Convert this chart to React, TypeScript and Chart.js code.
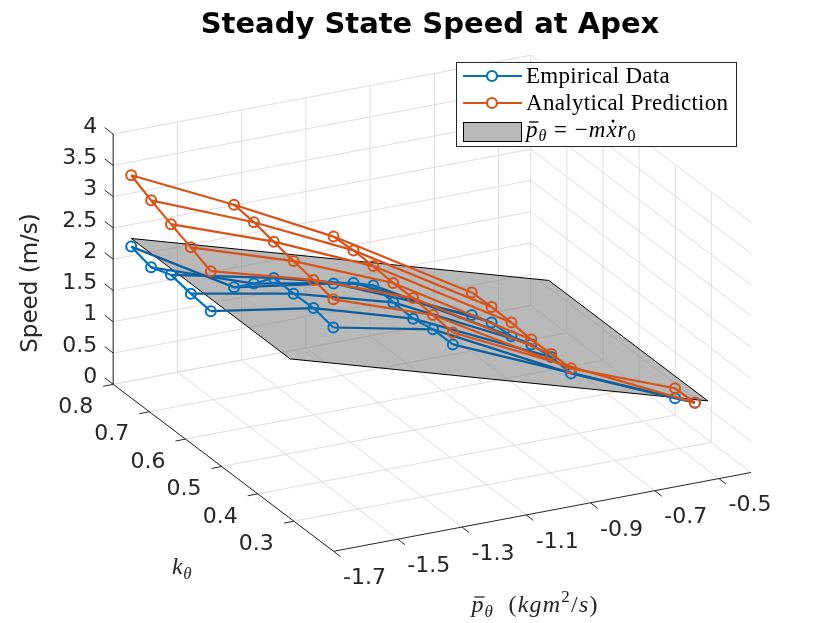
import { useEffect, useRef } from "react";
import { Chart, registerables } from "chart.js";

Chart.register(...registerables);

// axis limits and ticks
const pLim = [-1.7, -0.4];
const kLim = [0.19, 0.8];
const zLim = [0, 4];
const pTicks = [-1.7, -1.5, -1.3, -1.1, -0.9, -0.7, -0.5];
const kTicks = [0.3, 0.4, 0.5, 0.6, 0.7, 0.8];
const zTicks = [0, 0.5, 1, 1.5, 2, 2.5, 3, 3.5, 4];

// k levels of the test grid, p value of each sweep, first k level of each sweep
const kLevels = [0.75, 0.695, 0.64, 0.585, 0.53, 0.475, 0.42, 0.365, 0.31];
const pSweeps = [-1.7, -1.38, -1.07, -0.64, -0.44];
const kStart = [0, 0, 0, 0, 7];

// speed (m/s) along each sweep
const analytical = [
  [3.56, 3.4, 3.26, 3.13, 2.99],
  [2.78, 2.74, 2.67, 2.6, 2.54, 2.47],
  [1.97, 1.99, 1.98, 1.95, 1.95, 1.92, 1.88],
  [0.66, 0.67, 0.66, 0.63, 0.64, 0.65],
  [0.62, 0.63],
];
const empirical = [
  [2.42, 2.33, 2.45, 2.39, 2.35],
  [1.46, 1.76, 2.09, 2.08, 2.09, 2.02],
  [1.22, 1.47, 1.67, 1.64, 1.62, 1.69, 1.69],
  [0.3, 0.42, 0.44, 0.55, 0.59, 0.57],
  [0.46, 0.63],
];

// lines joining the sweeps: [sweep, k level]
const rowPaths = [
  [[0, 0], [1, 0], [2, 0], [3, 0]],
  [[0, 1], [1, 1], [2, 1], [3, 1]],
  [[0, 2], [1, 2], [2, 2], [3, 2]],
  [[0, 3], [1, 3], [2, 3], [3, 3]],
  [[0, 4], [1, 4], [2, 4], [3, 4]],
  [[1, 5], [2, 5], [3, 5], [4, 7]],
  [[2, 6], [4, 8]],
];

// plane p = -m xdot r0 (corners)
const planeP = [-1.7, -0.4, -0.4, -1.7, -1.7];
const planeK = [0.75, 0.75, 0.31, 0.31, 0.75];
const planeV = [2.55, 0.62, 0.62, 2.55, 2.55];

const BLUE = "#0072BD";
const BLUE_DARK = "#0d5e9e";
const ORANGE = "#D95319";
const AXIS = "#262626";
const GRID = "#dedede";
const PLANE = "rgba(128,128,128,0.55)";
const TICK_FONT = '22px "DejaVu Sans"';

// orthographic view of the 3-D box
function proj(p: number, k: number, z: number) {
  return {
    x: 108 + 326.7 * (p + 1.7) - 367.5 * (k - 0.8),
    y: 386 - 62 * (p + 1.7) - 280 * (k - 0.8) - 64 * z,
  };
}

function sweep(vals: number[][], s: number) {
  return vals[s].map((v, j) => proj(pSweeps[s], kLevels[kStart[s] + j], v));
}

function row(vals: number[][], path: number[][]) {
  return path.map(([s, i]) => proj(pSweeps[s], kLevels[i], vals[s][i - kStart[s]]));
}

type Seg = { t: string; f: string; dy?: number; bar?: boolean; dot?: boolean };

function drawMath(ctx: CanvasRenderingContext2D, segs: Seg[], x: number, y: number, center = false, sp = 0) {
  (ctx as any).letterSpacing = sp + "px";
  let w = 0;
  segs.forEach((s) => {
    ctx.font = s.f;
    w += ctx.measureText(s.t).width;
  });
  let cx = center ? x - w / 2 : x;
  segs.forEach((s) => {
    ctx.font = s.f;
    const mw = ctx.measureText(s.t).width;
    ctx.fillText(s.t, cx, y + (s.dy || 0));
    if (s.bar) {
      ctx.beginPath();
      ctx.lineWidth = 1.3;
      ctx.moveTo(cx + 3, y - 15);
      ctx.lineTo(cx + mw, y - 15);
      ctx.stroke();
    }
    if (s.dot) {
      ctx.beginPath();
      ctx.arc(cx + mw / 2 + 1, y - 16, 1.5, 0, Math.PI * 2);
      ctx.fill();
    }
    cx += mw;
  });
  (ctx as any).letterSpacing = "0px";
}

const IT = 'italic 23px "Liberation Serif"';
const RM = '23px "Liberation Serif"';
const SUB_IT = 'italic 16px "Liberation Serif"';
const SUB_RM = '16px "Liberation Serif"';
const LAB_IT = 'italic 24px "Liberation Serif"';
const LAB_RM = '24px "Liberation Serif"';
const LAB_SUB_IT = 'italic 17px "Liberation Serif"';
const LAB_SUB_RM = '17px "Liberation Serif"';

const axes3d = {
  id: "axes3d",
  beforeDraw(chart: Chart) {
    const { ctx } = chart;
    ctx.save();
    ctx.fillStyle = "#fff";
    ctx.fillRect(0, 0, chart.width, chart.height);
    ctx.restore();
  },
  beforeDatasetsDraw(chart: Chart) {
    const { ctx } = chart;
    const sx = chart.scales.x;
    const sy = chart.scales.y;
    const P = (p: number, k: number, z: number): [number, number] => {
      const q = proj(p, k, z);
      return [sx.getPixelForValue(q.x), sy.getPixelForValue(q.y)];
    };
    const seg = (a: [number, number], b: [number, number]) => {
      ctx.moveTo(a[0], a[1]);
      ctx.lineTo(b[0], b[1]);
    };
    const [p0, p1] = pLim;
    const [k0, k1] = kLim;
    const [z0, z1] = zLim;
    ctx.save();
    ctx.strokeStyle = GRID;
    ctx.lineWidth = 1;
    ctx.beginPath();
    pTicks.forEach((p) => seg(P(p, k0, z0), P(p, k1, z0)));
    kTicks.forEach((k) => seg(P(p0, k, z0), P(p1, k, z0)));
    pTicks.forEach((p) => seg(P(p, k1, z0), P(p, k1, z1)));
    zTicks.forEach((z) => seg(P(p0, k1, z), P(p1, k1, z)));
    kTicks.forEach((k) => seg(P(p1, k, z0), P(p1, k, z1)));
    zTicks.forEach((z) => seg(P(p1, k0, z), P(p1, k1, z)));
    ctx.stroke();

    ctx.strokeStyle = AXIS;
    ctx.beginPath();
    seg(P(p0, k1, z0), P(p0, k1, z1));
    seg(P(p0, k0, z0), P(p0, k1, z0));
    seg(P(p0, k0, z0), P(p1, k0, z0));
    zTicks.forEach((z) => {
      const a = P(p0, k1, z);
      seg(a, [a[0] - 8.5, a[1] - 6.5]);
    });
    kTicks.forEach((k) => {
      const a = P(p0, k, z0);
      seg(a, [a[0] - 10, a[1] + 2]);
    });
    pTicks.forEach((p) => {
      const a = P(p, k0, z0);
      seg(a, [a[0] + 7, a[1] + 5.5]);
    });
    ctx.stroke();

    ctx.fillStyle = AXIS;
    ctx.font = TICK_FONT;
    ctx.textBaseline = "middle";
    ctx.textAlign = "right";
    zTicks.forEach((z) => {
      const a = P(p0, k1, z);
      ctx.fillText(String(z), a[0] - 16, a[1] - 7);
    });
    kTicks.forEach((k) => {
      const a = P(p0, k, z0);
      ctx.fillText(String(k), a[0] - 20, a[1] + 23);
    });
    ctx.textAlign = "center";
    pTicks.forEach((p) => {
      const a = P(p, k0, z0);
      ctx.fillText(String(p), a[0] + 31, a[1] + 27);
    });

    // axis labels
    ctx.save();
    ctx.translate(31, 283);
    ctx.rotate(-Math.PI / 2);
    ctx.font = '23px "DejaVu Sans"';
    ctx.fillText("Speed (m/s)", 0, 0);
    ctx.restore();

    ctx.textAlign = "left";
    ctx.textBaseline = "alphabetic";
    ctx.strokeStyle = AXIS;
    drawMath(ctx, [{ t: "k", f: LAB_IT }, { t: "θ", f: LAB_SUB_IT, dy: 5 }], 182, 574, true, 0.5);
    drawMath(
      ctx,
      [
        { t: "p", f: LAB_IT, bar: true },
        { t: "θ", f: LAB_SUB_IT, dy: 5 },
        { t: "  (", f: LAB_RM },
        { t: "kgm", f: LAB_IT },
        { t: "2", f: LAB_SUB_RM, dy: -10 },
        { t: "/", f: LAB_RM },
        { t: "s", f: LAB_IT },
        { t: ")", f: LAB_RM },
      ],
      535,
      612,
      true,
      1.2
    );
    ctx.restore();
  },
  afterDraw(chart: Chart) {
    const { ctx } = chart;
    ctx.save();
    // title
    ctx.fillStyle = "#000";
    ctx.font = 'bold 29px "DejaVu Sans"';
    ctx.textAlign = "center";
    ctx.textBaseline = "middle";
    ctx.fillText("Steady State Speed at Apex", 430, 25);

    // legend
    ctx.fillStyle = "#fff";
    ctx.fillRect(456.5, 62.5, 280, 84);
    ctx.strokeStyle = AXIS;
    ctx.lineWidth = 1;
    ctx.strokeRect(456.5, 62.5, 280, 84);
    [
      [BLUE, 76],
      [ORANGE, 103],
    ].forEach(([c, y]) => {
      ctx.strokeStyle = c as string;
      ctx.lineWidth = 2.2;
      ctx.beginPath();
      ctx.moveTo(463, y as number);
      ctx.lineTo(522, y as number);
      ctx.stroke();
      ctx.fillStyle = "#fff";
      ctx.beginPath();
      ctx.arc(492, y as number, 5, 0, Math.PI * 2);
      ctx.fill();
      ctx.stroke();
    });
    ctx.fillStyle = PLANE;
    ctx.fillRect(463.5, 122.5, 58, 19);
    ctx.strokeStyle = "#000";
    ctx.lineWidth = 1;
    ctx.strokeRect(463.5, 122.5, 58, 19);

    ctx.fillStyle = "#000";
    ctx.textAlign = "left";
    ctx.textBaseline = "alphabetic";
    ctx.font = RM;
    (ctx as any).letterSpacing = "0.3px";
    ctx.fillText("Empirical Data", 526, 83);
    ctx.fillText("Analytical Prediction", 526, 110);
    ctx.strokeStyle = "#000";
    drawMath(
      ctx,
      [
        { t: "p", f: IT, bar: true },
        { t: "θ", f: SUB_IT, dy: 4 },
        { t: " = −", f: RM },
        { t: "m", f: IT },
        { t: "x", f: IT, dot: true },
        { t: "r", f: IT },
        { t: "0", f: SUB_RM, dy: 4 },
      ],
      526,
      137,
      false,
      1
    );
    ctx.restore();
  },
};

export default function App() {
  const canvasRef = useRef<HTMLCanvasElement>(null);

  useEffect(() => {
    if (!canvasRef.current) return;

    const lineSet = (data: { x: number; y: number }[], color: string, order: number, markers: boolean) => ({
      data,
      borderColor: color,
      backgroundColor: color,
      borderWidth: 2.2,
      pointRadius: markers ? 5 : 0,
      pointBorderWidth: 2,
      pointBackgroundColor: "rgba(0,0,0,0)",
      pointBorderColor: color,
      pointHoverRadius: markers ? 5 : 0,
      fill: false,
      tension: 0,
      order,
    });

    const datasets: any[] = [];
    datasets.push({
      data: planeP.map((p, i) => proj(p, planeK[i], planeV[i])),
      borderColor: "#000",
      borderWidth: 1,
      backgroundColor: PLANE,
      pointRadius: 0,
      fill: "shape",
      tension: 0,
      order: 6,
    });
    rowPaths.forEach((path) => datasets.push(lineSet(row(empirical, path), BLUE_DARK, 5, false)));
    pSweeps.forEach((_, s) => datasets.push(lineSet(sweep(empirical, s), BLUE, 3, true)));
    rowPaths.forEach((path) => datasets.push(lineSet(row(analytical, path), ORANGE, 2, false)));
    pSweeps.forEach((_, s) => datasets.push(lineSet(sweep(analytical, s), ORANGE, 1, true)));

    const chart = new Chart(canvasRef.current, {
      type: "line",
      data: { datasets },
      options: {
        responsive: false,
        animation: false,
        layout: { padding: 0 },
        scales: {
          x: { type: "linear", min: 0, max: 830, display: false },
          y: { type: "linear", min: 0, max: 623, reverse: true, display: false },
        },
        plugins: {
          legend: { display: false },
          title: { display: false },
          tooltip: { enabled: false },
        },
        events: [],
      },
      plugins: [axes3d],
    });

    return () => chart.destroy();
  }, []);

  return (
    <div style={{ position: "fixed", left: 0, top: 0, width: 830, height: 623, background: "#fff" }}>
      <canvas ref={canvasRef} width={830} height={623} style={{ width: 830, height: 623 }} />
    </div>
  );
}
